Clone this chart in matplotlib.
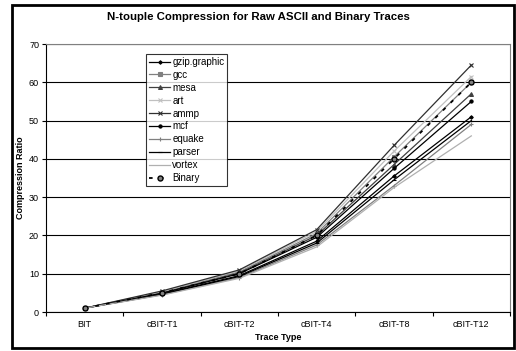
import matplotlib.pyplot as plt
from matplotlib.patches import Rectangle

categories = ["BIT", "cBIT-T1", "cBIT-T2", "cBIT-T4", "cBIT-T8", "cBIT-T12"]

gzip_graphic = [1, 4.7, 9.5, 18.5, 35.5, 51]
gcc = [1, 5.2, 10.5, 20.5, 40.5, 60]
mesa = [1, 5.0, 10.2, 20.0, 38.5, 57]
art = [1, 5.3, 10.8, 21.0, 42.0, 61.5]
ammp = [1, 5.5, 11.0, 21.5, 43.5, 64.5]
mcf = [1, 4.9, 10.0, 19.5, 37.5, 55]
equake = [1, 4.5, 9.0, 17.5, 33.0, 49]
parser = [1, 4.6, 9.3, 18.0, 34.5, 50]
vortex = [1, 4.4, 8.8, 17.0, 32.5, 46]
binary = [1, 5.0, 10.0, 20.0, 40.0, 60]

names = ["gzip.graphic", "gcc", "mesa", "art", "ammp", "mcf", "equake", "parser", "vortex", "Binary"]
series = [gzip_graphic, gcc, mesa, art, ammp, mcf, equake, parser, vortex, binary]

# (colour, marker, markersize, linestyle)
styles = [
    ("black", "D", 1.8, "-"),
    ("#808080", "s", 2.2, "-"),
    ("#404040", "^", 2.8, "-"),
    ("#c0c0c0", "x", 2.8, "-"),
    ("#303030", "x", 3.2, "-"),
    ("black", "o", 2.3, "-"),
    ("#808080", "+", 3.2, "-"),
    ("black", "_", 3.5, "-"),
    ("#b0b0b0", "", 0, "-"),
    ("black", "o", 3.6, (0, (2, 4))),
]

plt.rcParams['font.family'] = ['Liberation Sans', 'DejaVu Sans']

fig = plt.figure(figsize=(5.16, 3.51), dpi=100)
ax = fig.add_axes([46 / 516, 1 - 312 / 351, 464 / 516, 268 / 351])

x = list(range(len(categories)))
for name, ys, (c, m, ms, ls) in zip(names, series, styles):
    if name == "Binary":
        ax.plot(x, ys, color=c, linestyle=ls, linewidth=1.3, marker=m, markersize=ms,
                markerfacecolor="#808080", markeredgecolor="black", markeredgewidth=1,
                label=name, zorder=4)
    else:
        ax.plot(x, ys, color=c, linestyle=ls, linewidth=0.9, marker=m, markersize=ms,
                markeredgewidth=0.8, label=name, zorder=3)

ax.set_xlim(-0.5, len(categories) - 0.5)
ax.set_ylim(0, 70)
ax.set_yticks(range(0, 71, 10))
ax.set_xticks(x)
ax.set_xticklabels(categories)
ax.set_xticks([i + 0.5 for i in range(-1, len(categories))], minor=True)
ax.tick_params(axis='x', which='major', length=0, labelsize=6.5, pad=6)
ax.tick_params(axis='x', which='minor', length=3, direction='out', width=0.8)
ax.tick_params(axis='y', length=3, direction='out', width=0.8, labelsize=6.5, pad=2)
ax.yaxis.grid(True, color='black', linewidth=0.8)
ax.set_axisbelow(True)
for s in ['top', 'right']:
    ax.spines[s].set_color('#808080')
for s in ['left', 'bottom']:
    ax.spines[s].set_color('black')

ax.set_xlabel("Trace Type", fontsize=6.5, fontweight='bold', labelpad=3)
ax.set_ylabel("Compression Ratio", fontsize=6.5, fontweight='bold', labelpad=3)
fig.text(0.5, 1 - 17 / 351, "N-touple Compression for Raw ASCII and Binary Traces",
         ha='center', va='center', fontsize=8.2, fontweight='bold')

leg = ax.legend(loc='upper left', bbox_to_anchor=((146 - 46) / 464, (312 - 54) / 268),
                fontsize=7, frameon=True, fancybox=False, borderpad=0.3,
                labelspacing=0.3, handlelength=2.2, handletextpad=0.2, borderaxespad=0)
leg.get_frame().set_edgecolor('black')
leg.get_frame().set_linewidth(0.8)

fig.patches.append(Rectangle((12 / 516, 1 - 348 / 351), 502 / 516, 343 / 351,
                             transform=fig.transFigure, fill=False,
                             edgecolor='black', linewidth=2))

fig.savefig("out.png", dpi=100)
